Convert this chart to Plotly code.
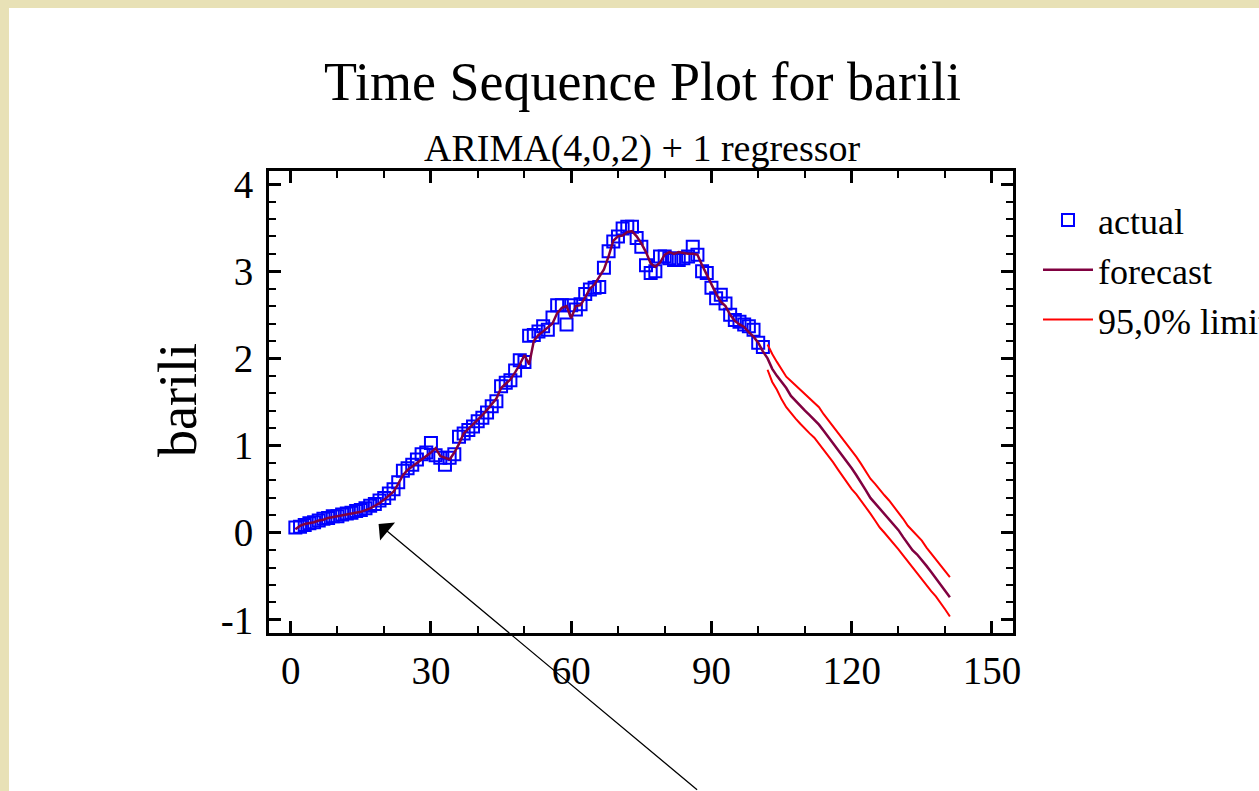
import plotly.graph_objects as go

# ---- data -------------------------------------------------------------
period = list(range(1, 102))
actual = [0.06, 0.07, 0.09, 0.11, 0.12, 0.14, 0.16, 0.17, 0.19, 0.19,
          0.21, 0.22, 0.23, 0.25, 0.26, 0.28, 0.31, 0.33, 0.37, 0.40,
          0.45, 0.50, 0.58, 0.71, 0.74, 0.78, 0.84, 0.90, 0.92, 1.03,
          0.89, 0.86, 0.78, 0.86, 0.90, 1.10, 1.14, 1.18, 1.22, 1.28,
          1.32, 1.38, 1.45, 1.51, 1.68, 1.72, 1.75, 1.86, 1.98, 1.96,
          2.26, 2.27, 2.31, 2.37, 2.33, 2.47, 2.61, 2.61, 2.39, 2.61,
          2.56, 2.62, 2.74, 2.79, 2.81, 2.82, 3.04, 3.23, 3.34, 3.40,
          3.49, 3.51, 3.51, 3.38, 3.28, 3.07, 2.98, 3.00, 3.17, 3.17,
          3.15, 3.13, 3.13, 3.15, 3.17, 3.28, 3.19, 3.00, 2.98, 2.81,
          2.69, 2.73, 2.63, 2.50, 2.44, 2.42, 2.39, 2.37, 2.33, 2.18,
          2.13]

fitted = [0.04, 0.08, 0.10, 0.11, 0.12, 0.14, 0.15, 0.17, 0.18, 0.19,
          0.20, 0.21, 0.22, 0.23, 0.24, 0.26, 0.28, 0.31, 0.34, 0.38,
          0.42, 0.47, 0.56, 0.66, 0.72, 0.76, 0.79, 0.84, 0.88, 0.92,
          0.97, 0.88, 0.86, 0.84, 0.92, 1.02, 1.14, 1.19, 1.24, 1.30,
          1.35, 1.41, 1.47, 1.54, 1.66, 1.71, 1.76, 1.84, 1.93, 2.04,
          1.93, 2.20, 2.27, 2.31, 2.36, 2.40, 2.52, 2.58, 2.60, 2.46,
          2.60, 2.61, 2.70, 2.80, 2.85, 2.93, 3.02, 3.17, 3.35, 3.40,
          3.41, 3.45, 3.46, 3.40, 3.32, 3.22, 3.09, 3.05, 3.10, 3.19,
          3.22, 3.20, 3.22, 3.21, 3.20, 3.20, 3.19, 3.07, 2.96, 2.84,
          2.74, 2.65, 2.60, 2.50, 2.43, 2.39, 2.36, 2.30, 2.25, 2.18,
          2.08]

fc_period = list(range(102, 142))
forecast = [2.00, 1.88, 1.80, 1.73, 1.66, 1.57, 1.51, 1.46, 1.40, 1.35,
            1.30, 1.24, 1.17, 1.10, 1.03, 0.96, 0.89, 0.82, 0.74, 0.66,
            0.58, 0.49, 0.40, 0.34, 0.28, 0.21, 0.15, 0.09, 0.03, -0.05,
            -0.13, -0.20, -0.25, -0.31, -0.38, -0.45, -0.52, -0.59, -0.66, -0.74]
upper = [2.16, 2.05, 1.96, 1.88, 1.79, 1.74, 1.69, 1.64, 1.58, 1.54,
         1.49, 1.44, 1.36, 1.29, 1.23, 1.16, 1.09, 1.02, 0.94, 0.87,
         0.79, 0.70, 0.62, 0.56, 0.49, 0.43, 0.37, 0.30, 0.24, 0.16,
         0.08, 0.02, -0.03, -0.09, -0.17, -0.24, -0.31, -0.37, -0.44, -0.51]
lower = [1.87, 1.73, 1.64, 1.53, 1.44, 1.37, 1.31, 1.25, 1.19, 1.14,
         1.09, 1.02, 0.95, 0.89, 0.81, 0.73, 0.65, 0.58, 0.50, 0.44,
         0.37, 0.30, 0.22, 0.14, 0.06, 0.00, -0.06, -0.13, -0.19, -0.26,
         -0.33, -0.40, -0.47, -0.53, -0.60, -0.67, -0.73, -0.80, -0.88, -0.96]

x_ticks = [0, 30, 60, 90, 120, 150]
x_labels = ["0", "30", "60", "90", "120", "150"]
y_ticks = [-1, 0, 1, 2, 3, 4]
y_labels = ["-1", "0", "1", "2", "3", "4"]

# ---- style ------------------------------------------------------------
FONT = "Liberation Serif"
BLUE = "#0000FF"
MAROON = "#800040"
RED = "#FF0000"
BEIGE = "#E8E1B6"

fig = go.Figure()

fig.add_trace(go.Scatter(
    x=period, y=actual, mode="markers", name="actual",
    marker=dict(symbol="square-open", size=12, color=BLUE,
                line=dict(width=2, color=BLUE)),
    cliponaxis=False))
fig.add_trace(go.Scatter(
    x=period + fc_period, y=fitted + forecast, mode="lines", name="forecast",
    line=dict(color=MAROON, width=2.5)))
fig.add_trace(go.Scatter(
    x=fc_period, y=upper, mode="lines", name="95,0% limits",
    line=dict(color=RED, width=2), legendgroup="lim"))
fig.add_trace(go.Scatter(
    x=fc_period, y=lower, mode="lines", name="95,0% limits",
    line=dict(color=RED, width=2), legendgroup="lim", showlegend=False))

axis_common = dict(
    showline=True, linecolor="black", linewidth=3, mirror="ticks",
    ticks="inside", ticklen=12, tickwidth=3, tickcolor="black",
    showgrid=False, zeroline=False,
    tickfont=dict(family=FONT, size=39, color="black"),
)

fig.update_xaxes(range=[-4.64, 154.5], tickvals=x_ticks, ticktext=x_labels,
                 ticklabelstandoff=1,
                 minor=dict(dtick=10, tick0=0, ticks="inside", ticklen=7,
                            tickwidth=2, tickcolor="black", showgrid=False),
                 **axis_common)
fig.update_yaxes(range=[-1.15, 4.15], tickvals=y_ticks, ticktext=y_labels,
                 ticklabelstandoff=5,
                 minor=dict(dtick=0.2, tick0=0, ticks="inside", ticklen=7,
                            tickwidth=2, tickcolor="black", showgrid=False),
                 **axis_common)

L, R, T, B = 269, 1013, 171, 633
W, H = R - L, B - T


def px(xp):
    return (xp - L) / W


def py(yp):
    return (B - yp) / H


fig.update_layout(
    width=1259, height=791, autosize=False,
    margin=dict(l=L, r=1259 - R, t=T, b=791 - B, pad=0, autoexpand=False),
    paper_bgcolor=BEIGE, plot_bgcolor="white",
    font=dict(family=FONT, color="black"),
    showlegend=True,
    legend=dict(x=px(1038), y=py(190), xanchor="left", yanchor="top",
                font=dict(family=FONT, size=36, color="black"),
                bgcolor="rgba(0,0,0,0)", itemwidth=50,
                tracegroupgap=0),
    shapes=[dict(type="rect", xref="paper", yref="paper", layer="below",
                 x0=px(9), x1=px(1300), y0=py(820), y1=py(8),
                 fillcolor="white", line=dict(width=0))],
    annotations=[
        dict(text="Time Sequence Plot for barili", xref="paper", yref="paper",
             x=px(642), y=py(82), xanchor="center", yanchor="middle",
             showarrow=False, font=dict(family=FONT, size=54, color="black")),
        dict(text="ARIMA(4,0,2) + 1 regressor", xref="paper", yref="paper",
             x=px(642), y=py(148), xanchor="center", yanchor="middle",
             showarrow=False, font=dict(family=FONT, size=38, color="black")),
        dict(text="barili", xref="paper", yref="paper",
             x=px(178), y=py(400), xanchor="center", yanchor="middle",
             textangle=-90, showarrow=False,
             font=dict(family=FONT, size=54, color="black")),
        dict(text="", x=18.8, y=0.1, xref="x", yref="y",
             showarrow=True, arrowhead=1, arrowsize=3, arrowwidth=1.3,
             arrowcolor="black", ax=320, ay=280, standoff=0),
    ],
)

fig.write_html("out.html")
